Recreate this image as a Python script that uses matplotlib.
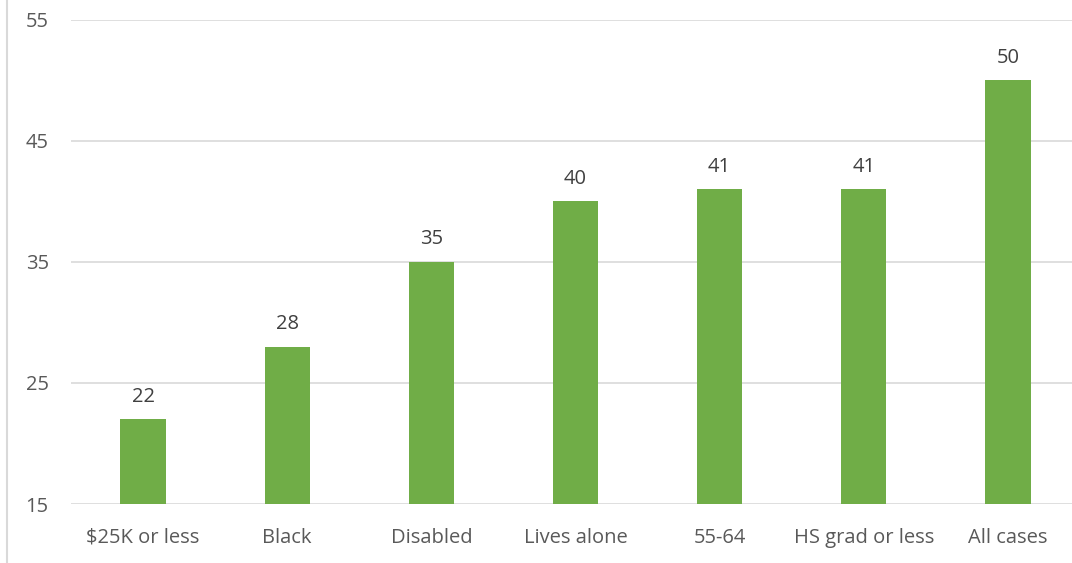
import matplotlib.pyplot as plt
from matplotlib.lines import Line2D

categories = ['$25K or less', 'Black', 'Disabled', 'Lives alone', '55-64', 'HS grad or less', 'All cases']
values = [22, 28, 35, 40, 41, 41, 50]
y_ticks = [15, 25, 35, 45, 55]

plt.rcParams['font.family'] = ['Open Sans', 'DejaVu Sans']

fig = plt.figure(figsize=(10.72, 5.63), dpi=100)
ax = fig.add_axes([71 / 1072, 1 - 504 / 563, 1009 / 1072, 484 / 563])

x = list(range(len(categories)))
ax.bar(x, values, width=0.315, color='#70AD47', zorder=3, bottom=0)
for xi, v in zip(x, values):
    ax.annotate(str(v), (xi, v), xytext=(0, 9), textcoords='offset points',
                ha='center', va='bottom', fontsize=14.5, color='#404040')

ax.set_ylim(15, 55)
ax.set_xlim(-0.5, len(categories) - 0.5)
ax.set_yticks(y_ticks)
ax.set_xticks(x)
ax.set_xticklabels(categories)
ax.yaxis.grid(True, color='#D9D9D9', linewidth=1.2, zorder=0)
ax.tick_params(axis='both', length=0, labelsize=14.5, labelcolor='#595959')
ax.tick_params(axis='y', pad=16)
ax.tick_params(axis='x', pad=17)
for s in ax.spines.values():
    s.set_visible(False)

# thin frame edge on the left side
fig.add_artist(Line2D([7 / 1072, 7 / 1072], [0, 1], color='#D9D9D9', linewidth=1.5))

fig.savefig('out.png', dpi=100, facecolor='white')
